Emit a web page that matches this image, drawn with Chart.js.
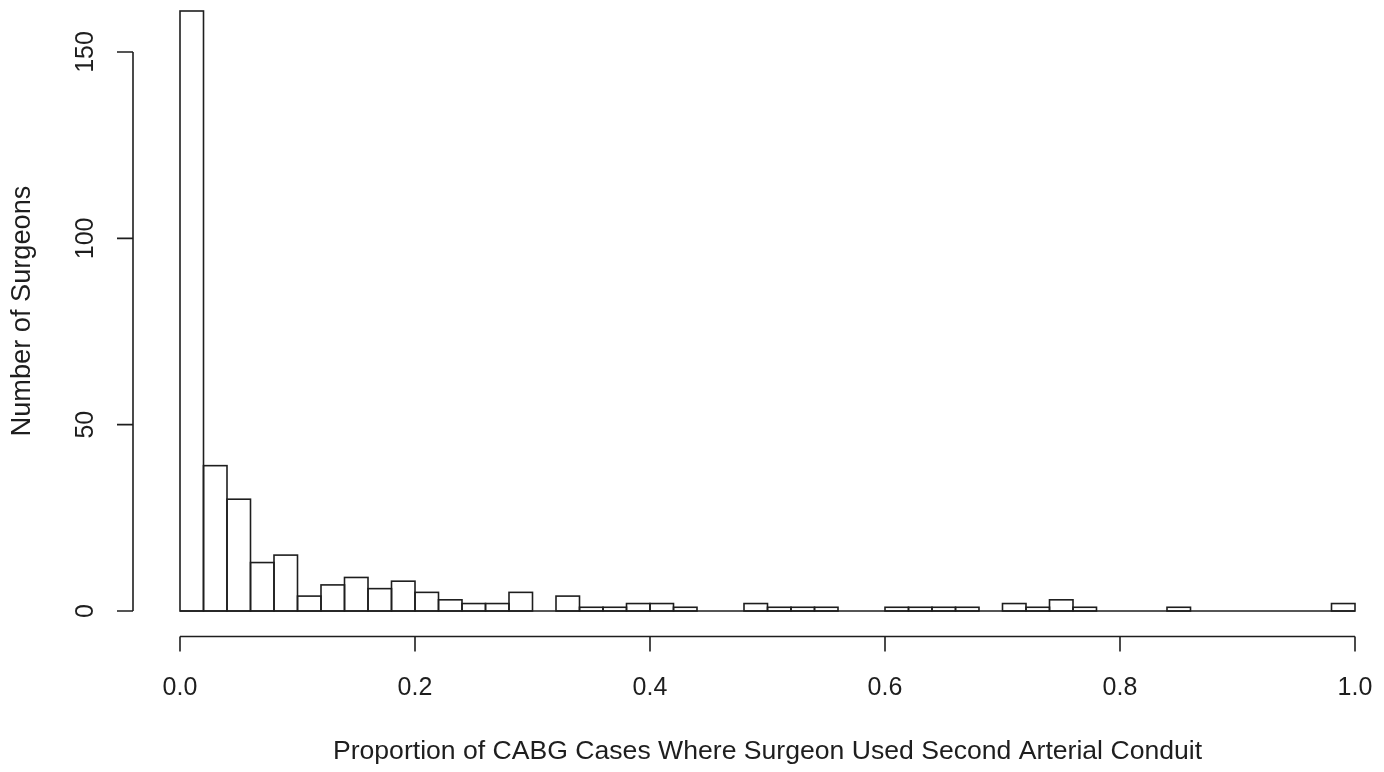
<!DOCTYPE html>
<html>
<head>
<meta charset="utf-8">
<title>Second arterial conduit use by surgeon</title>
<script src="https://cdn.jsdelivr.net/npm/chart.js@4/dist/chart.umd.min.js"></script>
<style>
  html, body { margin: 0; padding: 0; background: #fff; overflow: hidden; }
  #wrap { position: relative; width: 1384px; height: 772px; overflow: hidden; }
  #hist { position: absolute; left: 0; top: -13px; }
</style>
</head>
<body>
<div id="wrap"><canvas id="hist" width="1420" height="800"></canvas></div>
<script>
// Histogram bins: lower edges of each 0.02-wide bin, plus the final upper edge
const binEdges = [
  0.00, 0.02, 0.04, 0.06, 0.08, 0.10, 0.12, 0.14, 0.16, 0.18,
  0.20, 0.22, 0.24, 0.26, 0.28, 0.30, 0.32, 0.34, 0.36, 0.38,
  0.40, 0.42, 0.44, 0.46, 0.48, 0.50, 0.52, 0.54, 0.56, 0.58,
  0.60, 0.62, 0.64, 0.66, 0.68, 0.70, 0.72, 0.74, 0.76, 0.78,
  0.80, 0.82, 0.84, 0.86, 0.88, 0.90, 0.92, 0.94, 0.96, 0.98,
  1.00
];

// Number of surgeons falling in each bin
const surgeonCounts = [
  161, 39, 30, 13, 15, 4, 7, 9, 6, 8,
  5, 3, 2, 2, 5, 0, 4, 1, 1, 2,
  2, 1, 0, 0, 2, 1, 1, 1, 0, 0,
  1, 1, 1, 1, 0, 2, 1, 3, 1, 0,
  0, 0, 1, 0, 0, 0, 0, 0, 0, 2
];

// Axis tick values and their printed labels
const xTicks = [0.0, 0.2, 0.4, 0.6, 0.8, 1.0];
const xTickLabels = ["0.0", "0.2", "0.4", "0.6", "0.8", "1.0"];
const yTicks = [0, 50, 100, 150];
const yTickLabels = ["0", "50", "100", "150"];

const xTitle = "Proportion of CABG Cases Where Surgeon Used Second Arterial Conduit";
const yTitle = "Number of Surgeons";

const ink = "#1e1e1e";
const family = '"Liberation Sans", Arial, sans-serif';
const tickFont = "25px " + family;
const xTitleFont = "26.6px " + family;
const yTitleFont = "27.2px " + family;

// Each bar sits at the middle of its bin on a linear x scale
const barPoints = surgeonCounts.map((c, i) => ({
  x: (binEdges[i] + binEdges[i + 1]) / 2,
  y: c
}));

// R-style plot ranges: data range stretched by 4% on each side
const xLo = binEdges[0], xHi = binEdges[binEdges.length - 1];
const xPad = (xHi - xLo) * 0.04;
const yMaxCount = Math.max(...surgeonCounts);
const yPad = yMaxCount * 0.04;

// Outlines each bar (shared edges overlap) plus the zero line, then draws
// detached axes, tick labels and axis titles in the style of base R graphics.
const histFrame = {
  id: "histFrame",
  afterDatasetsDraw(chart) {
    const ctx = chart.ctx;
    const xs = chart.scales.x, ys = chart.scales.y;
    ctx.save();
    ctx.strokeStyle = ink;
    ctx.lineWidth = 1.6;
    const y0 = ys.getPixelForValue(0);
    chart.getDatasetMeta(0).data.forEach((bar) => {
      const p = bar.getProps(["x", "y", "base", "width"], true);
      if (p.base - p.y > 0.5) {
        ctx.strokeRect(p.x - p.width / 2, p.y, p.width, p.base - p.y);
      }
    });
    ctx.beginPath();
    ctx.moveTo(xs.getPixelForValue(xLo), y0);
    ctx.lineTo(xs.getPixelForValue(xHi), y0);
    ctx.stroke();
    ctx.restore();
  },
  afterDraw(chart) {
    const ctx = chart.ctx;
    const area = chart.chartArea;
    const xs = chart.scales.x, ys = chart.scales.y;
    const tickLen = 15;
    ctx.save();
    ctx.strokeStyle = ink;
    ctx.fillStyle = ink;
    ctx.lineWidth = 1.6;

    // x axis
    const ax = area.bottom + 1.5;
    ctx.beginPath();
    ctx.moveTo(xs.getPixelForValue(xTicks[0]), ax);
    ctx.lineTo(xs.getPixelForValue(xTicks[xTicks.length - 1]), ax);
    xTicks.forEach((v) => {
      const px = xs.getPixelForValue(v);
      ctx.moveTo(px, ax);
      ctx.lineTo(px, ax + tickLen);
    });
    ctx.stroke();
    ctx.textAlign = "center";
    ctx.textBaseline = "alphabetic";
    ctx.font = tickFont;
    xTicks.forEach((v, i) => {
      ctx.fillText(xTickLabels[i], xs.getPixelForValue(v), ax + 58);
    });
    ctx.font = xTitleFont;
    ctx.fillText(xTitle, (area.left + area.right) / 2, ax + 122);

    // y axis
    const ay = area.left;
    ctx.beginPath();
    ctx.moveTo(ay, ys.getPixelForValue(yTicks[0]));
    ctx.lineTo(ay, ys.getPixelForValue(yTicks[yTicks.length - 1]));
    yTicks.forEach((v) => {
      const py = ys.getPixelForValue(v);
      ctx.moveTo(ay, py);
      ctx.lineTo(ay - tickLen - 1, py);
    });
    ctx.stroke();
    ctx.font = tickFont;
    yTicks.forEach((v, i) => {
      ctx.save();
      ctx.translate(ay - 40, ys.getPixelForValue(v));
      ctx.rotate(-Math.PI / 2);
      ctx.fillText(yTickLabels[i], 0, 0);
      ctx.restore();
    });
    ctx.font = yTitleFont;
    ctx.save();
    ctx.translate(ay - 103, (area.top + area.bottom) / 2);
    ctx.rotate(-Math.PI / 2);
    ctx.fillText(yTitle, 0, 0);
    ctx.restore();
    ctx.restore();
  }
};

new Chart(document.getElementById("hist"), {
  type: "bar",
  data: {
    datasets: [{
      label: yTitle,
      data: barPoints,
      backgroundColor: "#ffffff",
      borderWidth: 0,
      barPercentage: 1.0,
      categoryPercentage: 1.0
    }]
  },
  options: {
    responsive: false,
    animation: false,
    devicePixelRatio: 1,
    layout: { padding: { left: 133, right: 18, top: 0, bottom: 152 } },
    plugins: {
      legend: { display: false },
      tooltip: { enabled: false },
      title: { display: false }
    },
    scales: {
      x: {
        type: "linear",
        offset: false,
        min: xLo - xPad,
        max: xHi + xPad,
        display: false
      },
      y: {
        type: "linear",
        min: 0 - yPad,
        max: yMaxCount + yPad,
        display: false
      }
    }
  },
  plugins: [histFrame]
});
</script>
</body>
</html>
